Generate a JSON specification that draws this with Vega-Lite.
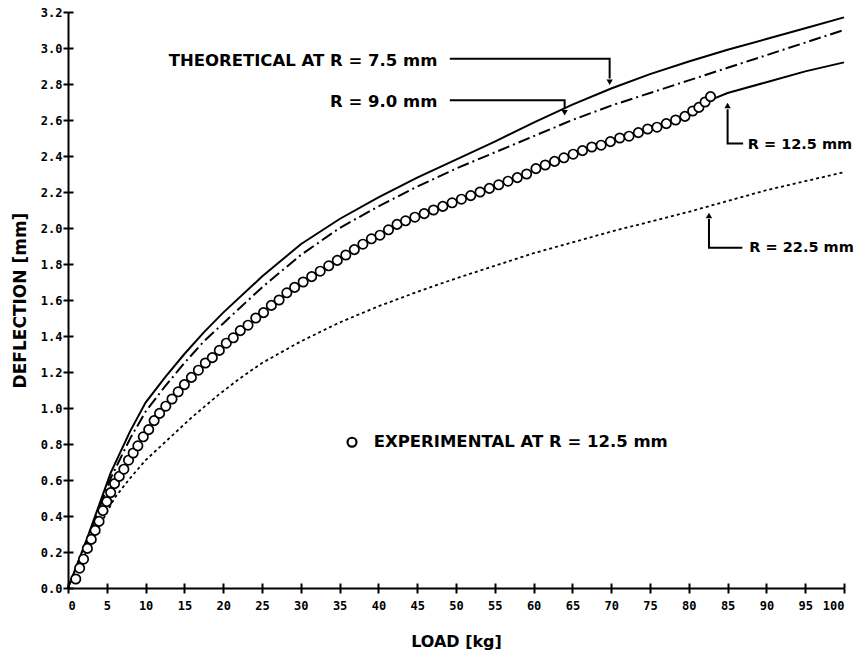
{
  "$schema": "https://vega.github.io/schema/vega-lite/v6.json",
  "width": 776,
  "height": 576,
  "autosize": "none",
  "padding": {"left": 68, "top": 12, "right": 19, "bottom": 70},
  "background": "white",
  "config": {
    "view": {"stroke": null},
    "axis": {"domainColor": "black", "tickColor": "black", "labelColor": "black", "titleColor": "black", "grid": false, "domainWidth": 2, "tickWidth": 2},
    "text": {"font": "DejaVu Sans", "fontWeight": "bold", "fontSize": 16.5, "color": "black"}
  },
  "resolve": {"axis": {"x": "independent", "y": "independent"}},
  "datasets": {
    "curves": [
      {"R": "7.5", "load": 0, "deflection": 0}, {"R": "7.5", "load": 2.5, "deflection": 0.28}, {"R": "7.5", "load": 5.5, "deflection": 0.64}, {"R": "7.5", "load": 8, "deflection": 0.87}, {"R": "7.5", "load": 10, "deflection": 1.03}, {"R": "7.5", "load": 12.5, "deflection": 1.17}, {"R": "7.5", "load": 15, "deflection": 1.30}, {"R": "7.5", "load": 17.5, "deflection": 1.42}, {"R": "7.5", "load": 20, "deflection": 1.53}, {"R": "7.5", "load": 25, "deflection": 1.73}, {"R": "7.5", "load": 30, "deflection": 1.91}, {"R": "7.5", "load": 35, "deflection": 2.05}, {"R": "7.5", "load": 40, "deflection": 2.17}, {"R": "7.5", "load": 45, "deflection": 2.28}, {"R": "7.5", "load": 50, "deflection": 2.38}, {"R": "7.5", "load": 55, "deflection": 2.48}, {"R": "7.5", "load": 60, "deflection": 2.585}, {"R": "7.5", "load": 65, "deflection": 2.685}, {"R": "7.5", "load": 70, "deflection": 2.775}, {"R": "7.5", "load": 75, "deflection": 2.855}, {"R": "7.5", "load": 80, "deflection": 2.925}, {"R": "7.5", "load": 85, "deflection": 2.99}, {"R": "7.5", "load": 90, "deflection": 3.05}, {"R": "7.5", "load": 95, "deflection": 3.11}, {"R": "7.5", "load": 100, "deflection": 3.17},
      {"R": "9.0", "load": 0, "deflection": 0}, {"R": "9.0", "load": 2.5, "deflection": 0.27}, {"R": "9.0", "load": 5.5, "deflection": 0.61}, {"R": "9.0", "load": 8, "deflection": 0.83}, {"R": "9.0", "load": 10, "deflection": 0.98}, {"R": "9.0", "load": 12.5, "deflection": 1.12}, {"R": "9.0", "load": 15, "deflection": 1.25}, {"R": "9.0", "load": 17.5, "deflection": 1.37}, {"R": "9.0", "load": 20, "deflection": 1.47}, {"R": "9.0", "load": 25, "deflection": 1.67}, {"R": "9.0", "load": 30, "deflection": 1.85}, {"R": "9.0", "load": 35, "deflection": 2.00}, {"R": "9.0", "load": 40, "deflection": 2.12}, {"R": "9.0", "load": 45, "deflection": 2.23}, {"R": "9.0", "load": 50, "deflection": 2.33}, {"R": "9.0", "load": 55, "deflection": 2.42}, {"R": "9.0", "load": 60, "deflection": 2.51}, {"R": "9.0", "load": 65, "deflection": 2.60}, {"R": "9.0", "load": 70, "deflection": 2.68}, {"R": "9.0", "load": 75, "deflection": 2.75}, {"R": "9.0", "load": 80, "deflection": 2.82}, {"R": "9.0", "load": 85, "deflection": 2.89}, {"R": "9.0", "load": 90, "deflection": 2.96}, {"R": "9.0", "load": 95, "deflection": 3.03}, {"R": "9.0", "load": 100, "deflection": 3.10},
      {"R": "12.5", "load": 83.3, "deflection": 2.72}, {"R": "12.5", "load": 85, "deflection": 2.75}, {"R": "12.5", "load": 90, "deflection": 2.81}, {"R": "12.5", "load": 95, "deflection": 2.87}, {"R": "12.5", "load": 100, "deflection": 2.92},
      {"R": "22.5", "load": 0, "deflection": 0}, {"R": "22.5", "load": 2, "deflection": 0.17}, {"R": "22.5", "load": 4, "deflection": 0.34}, {"R": "22.5", "load": 6, "deflection": 0.50}, {"R": "22.5", "load": 8, "deflection": 0.61}, {"R": "22.5", "load": 10, "deflection": 0.71}, {"R": "22.5", "load": 13, "deflection": 0.83}, {"R": "22.5", "load": 16, "deflection": 0.95}, {"R": "22.5", "load": 19.3, "deflection": 1.07}, {"R": "22.5", "load": 22, "deflection": 1.16}, {"R": "22.5", "load": 25, "deflection": 1.25}, {"R": "22.5", "load": 30, "deflection": 1.37}, {"R": "22.5", "load": 35, "deflection": 1.475}, {"R": "22.5", "load": 40, "deflection": 1.565}, {"R": "22.5", "load": 45, "deflection": 1.645}, {"R": "22.5", "load": 50, "deflection": 1.72}, {"R": "22.5", "load": 55, "deflection": 1.79}, {"R": "22.5", "load": 60, "deflection": 1.86}, {"R": "22.5", "load": 65, "deflection": 1.92}, {"R": "22.5", "load": 70, "deflection": 1.98}, {"R": "22.5", "load": 75, "deflection": 2.035}, {"R": "22.5", "load": 80, "deflection": 2.09}, {"R": "22.5", "load": 85, "deflection": 2.15}, {"R": "22.5", "load": 90, "deflection": 2.21}, {"R": "22.5", "load": 95, "deflection": 2.26}, {"R": "22.5", "load": 100, "deflection": 2.31}
    ],
    "experimental": [
      {"load": 1.0, "deflection": 0.05}, {"load": 1.5, "deflection": 0.11}, {"load": 2.0, "deflection": 0.16}, {"load": 2.5, "deflection": 0.22}, {"load": 3.0, "deflection": 0.27}, {"load": 3.5, "deflection": 0.32}, {"load": 4.0, "deflection": 0.37}, {"load": 4.5, "deflection": 0.43}, {"load": 5.0, "deflection": 0.48}, {"load": 5.5, "deflection": 0.53}, {"load": 6.0, "deflection": 0.58}, {"load": 6.6, "deflection": 0.62}, {"load": 7.2, "deflection": 0.66}, {"load": 7.8, "deflection": 0.71}, {"load": 8.4, "deflection": 0.75}, {"load": 9.0, "deflection": 0.79}, {"load": 9.7, "deflection": 0.84}, {"load": 10.4, "deflection": 0.88}, {"load": 11.1, "deflection": 0.93}, {"load": 11.8, "deflection": 0.97}, {"load": 12.6, "deflection": 1.01}, {"load": 13.4, "deflection": 1.05}, {"load": 14.2, "deflection": 1.09}, {"load": 15.0, "deflection": 1.13}, {"load": 15.9, "deflection": 1.17}, {"load": 16.8, "deflection": 1.21}, {"load": 17.7, "deflection": 1.25}, {"load": 18.6, "deflection": 1.28}, {"load": 19.5, "deflection": 1.32}, {"load": 20.4, "deflection": 1.36}, {"load": 21.3, "deflection": 1.39}, {"load": 22.2, "deflection": 1.43}, {"load": 23.2, "deflection": 1.46}, {"load": 24.2, "deflection": 1.50}, {"load": 25.2, "deflection": 1.53}, {"load": 26.2, "deflection": 1.57}, {"load": 27.2, "deflection": 1.60}, {"load": 28.2, "deflection": 1.64}, {"load": 29.2, "deflection": 1.67}, {"load": 30.3, "deflection": 1.70}, {"load": 31.4, "deflection": 1.73}, {"load": 32.5, "deflection": 1.76}, {"load": 33.6, "deflection": 1.79}, {"load": 34.7, "deflection": 1.82}, {"load": 35.8, "deflection": 1.85}, {"load": 36.9, "deflection": 1.88}, {"load": 38.0, "deflection": 1.91}, {"load": 39.1, "deflection": 1.94}, {"load": 40.2, "deflection": 1.96}, {"load": 41.3, "deflection": 1.99}, {"load": 42.4, "deflection": 2.02}, {"load": 43.5, "deflection": 2.04}, {"load": 44.7, "deflection": 2.06}, {"load": 45.9, "deflection": 2.08}, {"load": 47.1, "deflection": 2.10}, {"load": 48.3, "deflection": 2.12}, {"load": 49.5, "deflection": 2.14}, {"load": 50.7, "deflection": 2.16}, {"load": 51.9, "deflection": 2.18}, {"load": 53.1, "deflection": 2.20}, {"load": 54.3, "deflection": 2.22}, {"load": 55.5, "deflection": 2.24}, {"load": 56.7, "deflection": 2.26}, {"load": 57.9, "deflection": 2.28}, {"load": 59.1, "deflection": 2.30}, {"load": 60.3, "deflection": 2.33}, {"load": 61.5, "deflection": 2.35}, {"load": 62.7, "deflection": 2.37}, {"load": 63.9, "deflection": 2.39}, {"load": 65.1, "deflection": 2.41}, {"load": 66.3, "deflection": 2.43}, {"load": 67.5, "deflection": 2.45}, {"load": 68.7, "deflection": 2.46}, {"load": 69.9, "deflection": 2.48}, {"load": 71.1, "deflection": 2.50}, {"load": 72.3, "deflection": 2.51}, {"load": 73.5, "deflection": 2.53}, {"load": 74.7, "deflection": 2.55}, {"load": 75.9, "deflection": 2.56}, {"load": 77.1, "deflection": 2.58}, {"load": 78.3, "deflection": 2.60}, {"load": 79.5, "deflection": 2.62}, {"load": 80.5, "deflection": 2.65}, {"load": 81.3, "deflection": 2.67}, {"load": 82.1, "deflection": 2.70}, {"load": 82.8, "deflection": 2.73}
    ],
    "leaders": [
      {"g": "a", "o": 1, "load": 49.2, "deflection": 2.94}, {"g": "a", "o": 2, "load": 69.8, "deflection": 2.94}, {"g": "a", "o": 3, "load": 69.8, "deflection": 2.83},
      {"g": "b", "o": 1, "load": 49.2, "deflection": 2.71}, {"g": "b", "o": 2, "load": 64.0, "deflection": 2.71}, {"g": "b", "o": 3, "load": 64.0, "deflection": 2.66},
      {"g": "c", "o": 1, "load": 85.0, "deflection": 2.66}, {"g": "c", "o": 2, "load": 85.0, "deflection": 2.47}, {"g": "c", "o": 3, "load": 87.0, "deflection": 2.47},
      {"g": "d", "o": 1, "load": 82.6, "deflection": 2.05}, {"g": "d", "o": 2, "load": 82.6, "deflection": 1.89}, {"g": "d", "o": 3, "load": 86.9, "deflection": 1.89}
    ],
    "headsDown": [
      {"load": 69.8, "deflection": 2.81}, {"load": 64.0, "deflection": 2.64}
    ],
    "headsUp": [
      {"load": 85.0, "deflection": 2.68}, {"load": 82.6, "deflection": 2.07}
    ],
    "labelsRight": [
      {"text": "THEORETICAL AT R = 7.5 mm", "load": 47.6, "deflection": 2.93},
      {"text": "R = 9.0 mm", "load": 47.6, "deflection": 2.70}
    ],
    "labelsLeft": [
      {"text": "R = 12.5 mm", "load": 87.6, "deflection": 2.46},
      {"text": "R = 22.5 mm", "load": 87.8, "deflection": 1.89}
    ],
    "labelExp": [
      {"text": "EXPERIMENTAL AT R = 12.5 mm", "load": 39.4, "deflection": 0.81}
    ],
    "legendSymbol": [
      {"load": 36.6, "deflection": 0.81}
    ]
  },
  "layer": [
    {
      "data": {"name": "curves"},
      "transform": [{"filter": "datum.R == '7.5'"}],
      "mark": {"type": "line", "color": "black", "strokeWidth": 2},
      "encoding": {
        "x": {"field": "load", "type": "quantitative", "scale": {"domain": [0, 100], "nice": false},
          "axis": {"orient": "bottom", "title": "LOAD  [kg]", "values": [0,5,10,15,20,25,30,35,40,45,50,55,60,65,70,75,80,85,90,95,100], "format": "d",
            "labelFont": "DejaVu Sans Mono", "labelFontWeight": "bold", "labelFontSize": 12, "tickSize": 5, "labelPadding": 7,
            "titleFont": "DejaVu Sans", "titleFontSize": 16, "titleFontWeight": "bold", "titlePadding": 22}},
        "y": {"field": "deflection", "type": "quantitative", "scale": {"domain": [0, 3.2], "nice": false},
          "axis": {"orient": "left", "title": "DEFLECTION [mm]", "values": [0,0.2,0.4,0.6,0.8,1.0,1.2,1.4,1.6,1.8,2.0,2.2,2.4,2.6,2.8,3.0,3.2], "format": ".1f",
            "labelFont": "DejaVu Sans Mono", "labelFontWeight": "bold", "labelFontSize": 12, "tickSize": 5, "labelPadding": 1,
            "titleFont": "DejaVu Sans", "titleFontSize": 17, "titleFontWeight": "bold", "titlePadding": 11}}
      }
    },
    {
      "data": {"name": "curves"},
      "transform": [{"filter": "datum.R == '9.0'"}],
      "mark": {"type": "line", "color": "black", "strokeWidth": 2, "strokeDash": [12, 4, 2, 4]},
      "encoding": {
        "x": {"field": "load", "type": "quantitative", "axis": {"orient": "bottom", "values": [0,5,10,15,20,25,30,35,40,45,50,55,60,65,70,75,80,85,90,95,100], "tickSize": -5, "labels": false, "domain": false, "title": null}},
        "y": {"field": "deflection", "type": "quantitative", "axis": {"orient": "left", "values": [0,0.2,0.4,0.6,0.8,1.0,1.2,1.4,1.6,1.8,2.0,2.2,2.4,2.6,2.8,3.0,3.2], "tickSize": -5, "labels": false, "domain": false, "title": null}}
      }
    },
    {
      "data": {"name": "curves"},
      "transform": [{"filter": "datum.R == '12.5'"}],
      "mark": {"type": "line", "color": "black", "strokeWidth": 2},
      "encoding": {
        "x": {"field": "load", "type": "quantitative", "axis": null},
        "y": {"field": "deflection", "type": "quantitative", "axis": null}
      }
    },
    {
      "data": {"name": "curves"},
      "transform": [{"filter": "datum.R == '22.5'"}],
      "mark": {"type": "line", "color": "black", "strokeWidth": 1.8, "strokeDash": [3, 3]},
      "encoding": {
        "x": {"field": "load", "type": "quantitative", "axis": null},
        "y": {"field": "deflection", "type": "quantitative", "axis": null}
      }
    },
    {
      "data": {"name": "experimental"},
      "mark": {"type": "point", "shape": "circle", "filled": true, "fill": "white", "stroke": "black", "strokeWidth": 1.7, "size": 88, "opacity": 1},
      "encoding": {
        "x": {"field": "load", "type": "quantitative", "axis": null},
        "y": {"field": "deflection", "type": "quantitative", "axis": null}
      }
    },
    {
      "data": {"name": "leaders"},
      "mark": {"type": "line", "color": "black", "strokeWidth": 2},
      "encoding": {
        "x": {"field": "load", "type": "quantitative", "axis": null},
        "y": {"field": "deflection", "type": "quantitative", "axis": null},
        "detail": {"field": "g"},
        "order": {"field": "o"}
      }
    },
    {
      "data": {"name": "headsDown"},
      "mark": {"type": "point", "shape": "triangle-down", "filled": true, "color": "black", "size": 40, "opacity": 1},
      "encoding": {
        "x": {"field": "load", "type": "quantitative", "axis": null},
        "y": {"field": "deflection", "type": "quantitative", "axis": null}
      }
    },
    {
      "data": {"name": "headsUp"},
      "mark": {"type": "point", "shape": "triangle-up", "filled": true, "color": "black", "size": 40, "opacity": 1},
      "encoding": {
        "x": {"field": "load", "type": "quantitative", "axis": null},
        "y": {"field": "deflection", "type": "quantitative", "axis": null}
      }
    },
    {
      "data": {"name": "labelsRight"},
      "mark": {"type": "text", "align": "right", "baseline": "middle"},
      "encoding": {
        "x": {"field": "load", "type": "quantitative", "axis": null},
        "y": {"field": "deflection", "type": "quantitative", "axis": null},
        "text": {"field": "text"}
      }
    },
    {
      "data": {"name": "labelsLeft"},
      "mark": {"type": "text", "align": "left", "baseline": "middle", "fontSize": 14.5},
      "encoding": {
        "x": {"field": "load", "type": "quantitative", "axis": null},
        "y": {"field": "deflection", "type": "quantitative", "axis": null},
        "text": {"field": "text"}
      }
    },
    {
      "data": {"name": "labelExp"},
      "mark": {"type": "text", "align": "left", "baseline": "middle"},
      "encoding": {
        "x": {"field": "load", "type": "quantitative", "axis": null},
        "y": {"field": "deflection", "type": "quantitative", "axis": null},
        "text": {"field": "text"}
      }
    },
    {
      "data": {"name": "legendSymbol"},
      "mark": {"type": "point", "shape": "circle", "filled": false, "stroke": "black", "strokeWidth": 2.2, "size": 80, "opacity": 1},
      "encoding": {
        "x": {"field": "load", "type": "quantitative", "axis": null},
        "y": {"field": "deflection", "type": "quantitative", "axis": null}
      }
    }
  ]
}
